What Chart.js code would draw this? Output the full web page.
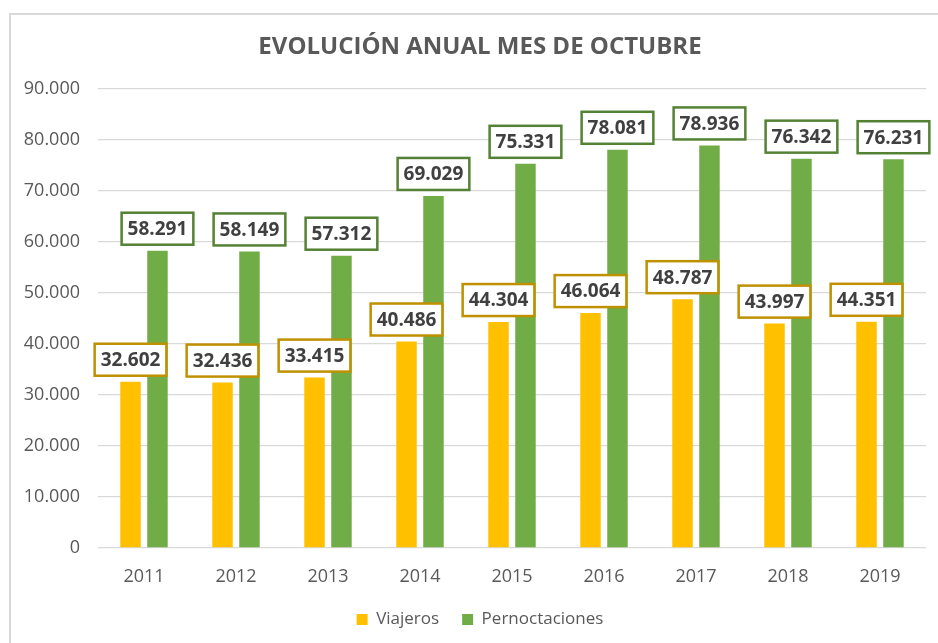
<!DOCTYPE html>
<html>
<head>
<meta charset="utf-8">
<script src="https://cdn.jsdelivr.net/npm/chart.js@4.4.1/dist/chart.umd.min.js"></script>
<style>
html,body{margin:0;padding:0;background:#fff;overflow:hidden;width:938px;height:643px;}
#frame{position:absolute;left:9px;top:13px;width:2000px;height:2000px;border-top:2px solid #d9d9d9;border-left:2px solid #d9d9d9;}
#c{position:absolute;left:0;top:0;}
</style>
</head>
<body>
<div id="frame"></div>
<canvas id="c" width="960" height="638"></canvas>
<script>
const years = ['2011', '2012', '2013', '2014', '2015', '2016', '2017', '2018', '2019'];
const viajeros = [32602, 32436, 33415, 40486, 44304, 46064, 48787, 43997, 44351];
const pernoctaciones = [58291, 58149, 57312, 69029, 75331, 78081, 78936, 76342, 76231];
const yTickValues = [0, 10000, 20000, 30000, 40000, 50000, 60000, 70000, 80000, 90000];
const titleText = 'EVOLUCIÓN ANUAL MES DE OCTUBRE';

const fmt = v => String(v).replace(/\B(?=(\d{3})+(?!\d))/g, '.');
const FONT = 'Open Sans';

const boxLabels = {
  id: 'boxLabels',
  afterDatasetsDraw(chart) {
    const ctx = chart.ctx;
    ctx.save();
    ctx.font = 'bold 19px "' + FONT + '"';
    ctx.textAlign = 'center';
    ctx.textBaseline = 'middle';
    chart.data.datasets.forEach((ds, di) => {
      const meta = chart.getDatasetMeta(di);
      meta.data.forEach((bar, i) => {
        const txt = fmt(ds.data[i]);
        const w = ctx.measureText(txt).width + 12;
        const h = 32;
        const bottom = bar.y - 6;
        const x = bar.x - w / 2, y = bottom - h;
        ctx.fillStyle = '#ffffff';
        ctx.fillRect(x, y, w, h);
        ctx.lineWidth = 2.5;
        ctx.strokeStyle = ds.labelBorder;
        ctx.strokeRect(x, y, w, h);
        ctx.fillStyle = '#404040';
        ctx.fillText(txt, bar.x, y + h / 2 + 1);
      });
    });
    ctx.restore();
  }
};

new Chart(document.getElementById('c'), {
  type: 'bar',
  data: {
    labels: years,
    datasets: [
      { label: 'Viajeros', data: viajeros, backgroundColor: '#FFC000', borderWidth: 0,
        categoryPercentage: 0.586, barPercentage: 0.76, labelBorder: '#BF9000' },
      { label: 'Pernoctaciones', data: pernoctaciones, backgroundColor: '#70AD47', borderWidth: 0,
        categoryPercentage: 0.586, barPercentage: 0.76, labelBorder: '#548235' }
    ]
  },
  options: {
    responsive: false,
    animation: false,
    devicePixelRatio: 1,
    events: [],
    layout: { padding: 0 },
    plugins: {
      title: {
        display: true, text: titleText, color: '#595959',
        font: { family: FONT, size: 24, weight: 'bold', lineHeight: 1.2 },
        padding: { top: 32.6, bottom: 27.6 }
      },
      legend: {
        position: 'bottom',
        labels: { color: '#595959', font: { family: FONT, size: 17 }, boxWidth: 11, boxHeight: 11, padding: 23 }
      },
      tooltip: { enabled: false }
    },
    scales: {
      x: {
        grid: { display: false },
        border: { display: false },
        ticks: { color: '#595959', font: { family: FONT, size: 18 }, padding: 10 },
        afterFit: s => { s.height = 40; }
      },
      y: {
        min: 0, max: 90000,
        grid: { color: '#d9d9d9', lineWidth: 1.3, drawTicks: false },
        border: { display: false },
        ticks: { color: '#595959', font: { family: FONT, size: 18 }, padding: 18, callback: v => fmt(v) },
        afterBuildTicks: s => { s.ticks = yTickValues.map(v => ({ value: v })); },
        afterFit: s => { s.width = 98; }
      },
      yR: {
        position: 'right', display: true,
        grid: { display: false }, border: { display: false },
        ticks: { display: false },
        afterFit: s => { s.width = 34; }
      }
    }
  },
  plugins: [boxLabels]
});
</script>
</body>
</html>
